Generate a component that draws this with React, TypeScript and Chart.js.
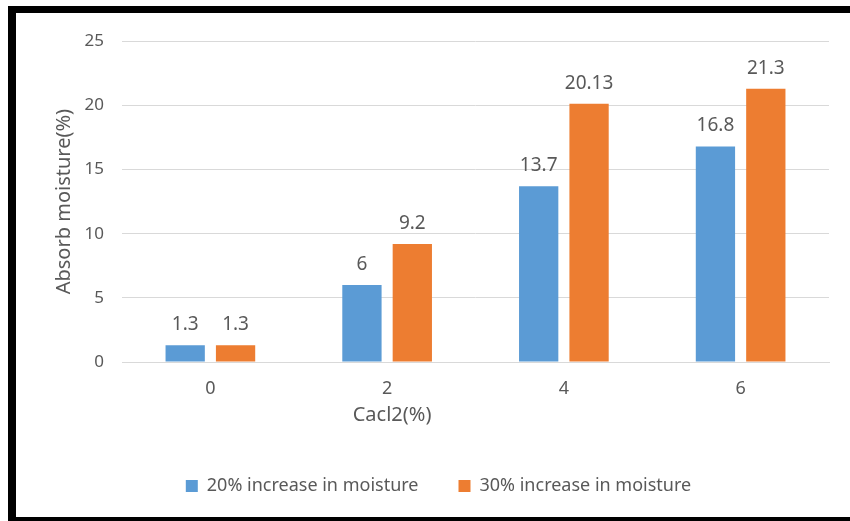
import React, { useEffect, useRef } from "react";
import { Chart, registerables } from "chart.js";

Chart.register(...registerables);

const categories = ["0", "2", "4", "6"];
const series20 = [1.3, 6, 13.7, 16.8];
const series30 = [1.3, 9.2, 20.13, 21.3];
const seriesNames = ["20% increase in moisture", "30% increase in moisture"];
const xTitle = "Cacl2(%)";
const yTitle = "Absorb moisture(%)";

const FONT = "'Noto Sans', 'Open Sans', sans-serif";
const TEXT = "#595959";

const valueLabels = {
  id: "valueLabels",
  afterDatasetsDraw(chart: any) {
    const ctx = chart.ctx;
    ctx.save();
    ctx.font = `19px ${FONT}`;
    ctx.fillStyle = TEXT;
    ctx.textAlign = "center";
    ctx.textBaseline = "alphabetic";
    chart.data.datasets.forEach((ds: any, i: number) => {
      const meta = chart.getDatasetMeta(i);
      meta.data.forEach((bar: any, j: number) => {
        ctx.fillText(String(ds.data[j]), bar.x, bar.y - 15);
      });
    });
    ctx.restore();
  },
};

// x-axis title, placed left of centre as in the reference
const xTitlePlugin = {
  id: "xTitlePlugin",
  afterDraw(chart: any) {
    const ctx = chart.ctx;
    const a = chart.chartArea;
    ctx.save();
    ctx.font = `20px ${FONT}`;
    ctx.fillStyle = TEXT;
    ctx.textAlign = "center";
    ctx.textBaseline = "middle";
    ctx.fillText(xTitle, a.left + 0.382 * (a.right - a.left), a.bottom + 53);
    ctx.restore();
  },
};

// shift the legend slightly to the right, as in the reference
const legendShift = {
  id: "legendShift",
  afterLayout(chart: any) {
    const lg = chart.legend;
    if (lg) {
      lg.left += 16;
      lg.right += 16;
    }
  },
};

export default function App() {
  const ref = useRef<HTMLCanvasElement>(null);
  useEffect(() => {
    if (!ref.current) return;
    const chart = new Chart(ref.current, {
      type: "bar",
      data: {
        labels: categories,
        datasets: [
          { label: seriesNames[0], data: series20, backgroundColor: "#5B9BD5", categoryPercentage: 0.57, barPercentage: 0.78 },
          { label: seriesNames[1], data: series30, backgroundColor: "#ED7D31", categoryPercentage: 0.57, barPercentage: 0.78 },
        ],
      },
      options: {
        animation: false,
        responsive: false,
        maintainAspectRatio: false,
        layout: { padding: { top: 26, right: 21, bottom: 12, left: 0 } },
        plugins: {
          tooltip: { enabled: false },
          legend: {
            position: "bottom",
            labels: {
              boxWidth: 12,
              boxHeight: 12,
              padding: 40,
              color: TEXT,
              font: { family: FONT, size: 18 },
            },
          },
        },
        scales: {
          x: {
            grid: { display: false, drawTicks: false },
            border: { display: true, color: "#d9d9d9", width: 1 },
            ticks: { color: TEXT, font: { family: FONT, size: 18 }, padding: 16 },
            title: { display: false },
            afterFit: (s: any) => { s.height = 75; },
          },
          y: {
            min: 0,
            max: 25,
            ticks: { stepSize: 5, color: TEXT, font: { family: FONT, size: 17 }, padding: 18 },
            grid: { color: "#d9d9d9", drawTicks: false },
            border: { display: false },
            title: { display: true, text: yTitle, color: TEXT, font: { family: FONT, size: 20 }, padding: { top: 36, bottom: 0 } },
            afterFit: (s: any) => { s.width = 106; },
          },
        },
      },
      plugins: [valueLabels, xTitlePlugin, legendShift],
    });
    return () => chart.destroy();
  }, []);
  return (
    <div style={{ position: "absolute", left: 0, top: 0, width: 850, height: 521, background: "#fff", overflow: "hidden" }}>
      <div style={{ position: "absolute", left: 16, top: 13, width: 834, height: 504 }}>
        <canvas ref={ref} width={834} height={504} style={{ display: "block" }} />
      </div>
      <div style={{ position: "absolute", left: 8, top: 6, width: 842, height: 7, background: "#000" }} />
      <div style={{ position: "absolute", left: 8, top: 6, width: 8, height: 515, background: "#000" }} />
      <div style={{ position: "absolute", left: 8, top: 517, width: 842, height: 4, background: "#000" }} />
    </div>
  );
}
